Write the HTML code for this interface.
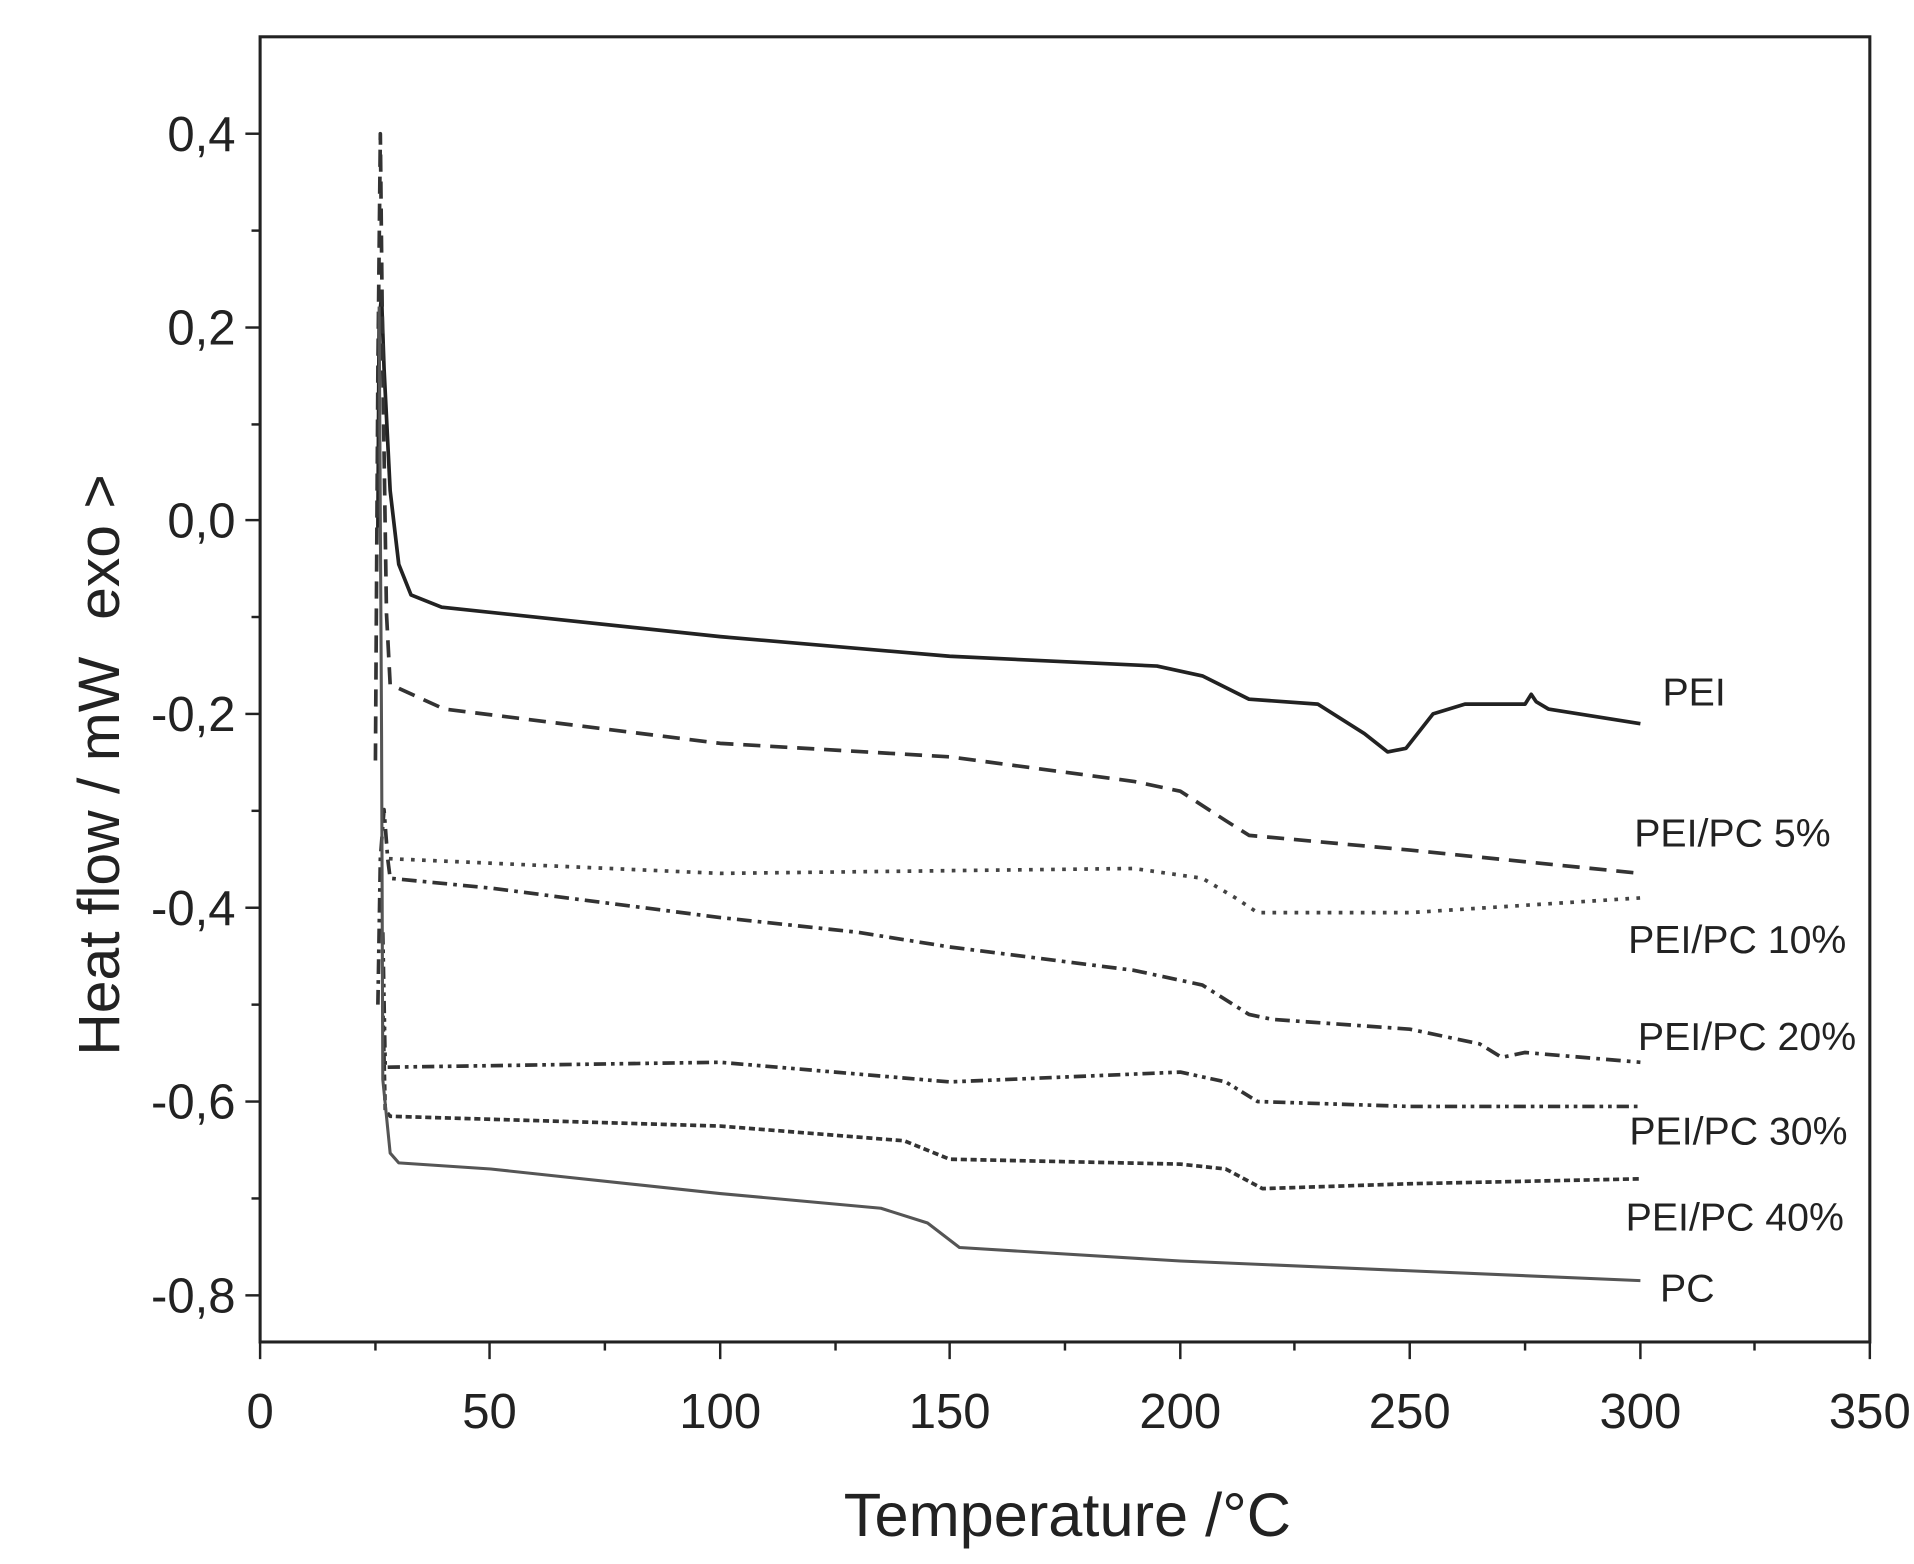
<!DOCTYPE html>
<html><head><meta charset="utf-8"><style>html,body{margin:0;padding:0;background:#fff}svg{display:block}</style></head><body>
<svg width="1914" height="1564" viewBox="0 0 1560 1275" preserveAspectRatio="none" xmlns="http://www.w3.org/2000/svg" font-family="Liberation Sans, sans-serif">
<rect width="1560" height="1275" fill="#fff"/>
<rect x="212" y="30" width="1312" height="1064" fill="none" stroke="#222" stroke-width="2.5"/>
<g stroke="#222" stroke-width="2">
<line x1="200" y1="109" x2="212" y2="109"/><line x1="200" y1="267" x2="212" y2="267"/><line x1="200" y1="424" x2="212" y2="424"/><line x1="200" y1="582" x2="212" y2="582"/><line x1="200" y1="740" x2="212" y2="740"/><line x1="200" y1="898" x2="212" y2="898"/><line x1="200" y1="1056" x2="212" y2="1056"/>
<line x1="205" y1="188" x2="212" y2="188"/><line x1="205" y1="346" x2="212" y2="346"/><line x1="205" y1="503" x2="212" y2="503"/><line x1="205" y1="661" x2="212" y2="661"/><line x1="205" y1="819" x2="212" y2="819"/><line x1="205" y1="977" x2="212" y2="977"/>
<line x1="212" y1="1094" x2="212" y2="1108"/><line x1="399" y1="1094" x2="399" y2="1108"/><line x1="587" y1="1094" x2="587" y2="1108"/><line x1="774" y1="1094" x2="774" y2="1108"/><line x1="962" y1="1094" x2="962" y2="1108"/><line x1="1149" y1="1094" x2="1149" y2="1108"/><line x1="1337" y1="1094" x2="1337" y2="1108"/><line x1="1524" y1="1094" x2="1524" y2="1108"/>
<line x1="306" y1="1094" x2="306" y2="1101"/><line x1="493" y1="1094" x2="493" y2="1101"/><line x1="681" y1="1094" x2="681" y2="1101"/><line x1="868" y1="1094" x2="868" y2="1101"/><line x1="1055" y1="1094" x2="1055" y2="1101"/><line x1="1243" y1="1094" x2="1243" y2="1101"/><line x1="1430" y1="1094" x2="1430" y2="1101"/>
</g>
<g font-size="40" fill="#222" text-anchor="end">
<text x="192" y="123">0,4</text><text x="192" y="281">0,2</text><text x="192" y="438">0,0</text><text x="192" y="596">-0,2</text><text x="192" y="754">-0,4</text><text x="192" y="912">-0,6</text><text x="192" y="1070">-0,8</text>
</g>
<g font-size="40" fill="#222" text-anchor="middle">
<text x="212" y="1164">0</text><text x="399" y="1164">50</text><text x="587" y="1164">100</text><text x="774" y="1164">150</text><text x="962" y="1164">200</text><text x="1149" y="1164">250</text><text x="1337" y="1164">300</text><text x="1524" y="1164">350</text>
</g>
<text x="870" y="1252" font-size="50" text-anchor="middle" fill="#222">Temperature /°C</text>
<text transform="translate(97,698) rotate(-90)" font-size="48" text-anchor="middle" fill="#222">Heat flow / mW</text>
<text transform="translate(97,446) rotate(-90)" font-size="48" text-anchor="middle" fill="#222">exo &gt;</text>
<g fill="none" stroke-linejoin="round">
<path d="M308,430 L309,260 L311,242 L313,300 L318,400 L325,460 L335,485 L360,495 L587,519 L774,535 L943,543 L980,551 L1018,570 L1074,574 L1112,598 L1131,613 L1146,610 L1168,582 L1194,574 L1243,574 L1248,566 L1252,572 L1262,578 L1337,590" stroke="#222" stroke-width="3"/>
<path d="M306,620 L308,300 L310,109 L312,300 L315,500 L318,558 L362,578 L587,606 L774,617 L924,637 L962,645 L999,669 L1018,681 L1149,693 L1337,712" stroke="#333" stroke-width="3" stroke-dasharray="14,8"/>
<path d="M317,700 L587,712 L924,708 L980,716 L1007,732 L1025,744 L1149,744 L1337,732" stroke="#444" stroke-width="3" stroke-dasharray="3,6"/>
<path d="M308,819 L310,700 L313,660 L316,700 L318,716 L400,724 L587,748 L699,760 L774,772 L924,791 L980,803 L1018,827 L1037,831 L1149,839 L1206,851 L1224,862 L1243,858 L1337,866" stroke="#333" stroke-width="3" stroke-dasharray="12,5,3,5"/>
<path d="M312,760 L314,870 L587,866 L774,882 L962,874 L999,882 L1025,898 L1149,902 L1337,902" stroke="#333" stroke-width="3" stroke-dasharray="10,4,3,4,3,4"/>
<path d="M312,820 L314,905 L318,910 L587,918 L737,930 L774,945 L962,949 L999,953 L1029,969 L1149,965 L1337,961" stroke="#333" stroke-width="3" stroke-dasharray="5,3"/>
<path d="M309,250 L311,600 L312,880 L318,940 L325,948 L400,953 L587,973 L718,985 L756,997 L782,1017 L962,1028 L1337,1044" stroke="#555" stroke-width="2.5"/>
</g>
<g font-size="32" fill="#222">
<text x="1355" y="575">PEI</text>
<text x="1332" y="690">PEI/PC 5%</text>
<text x="1327" y="777">PEI/PC 10%</text>
<text x="1335" y="856">PEI/PC 20%</text>
<text x="1328" y="933">PEI/PC 30%</text>
<text x="1325" y="1003">PEI/PC 40%</text>
<text x="1353" y="1061">PC</text>
</g>
</svg>
</body></html>
